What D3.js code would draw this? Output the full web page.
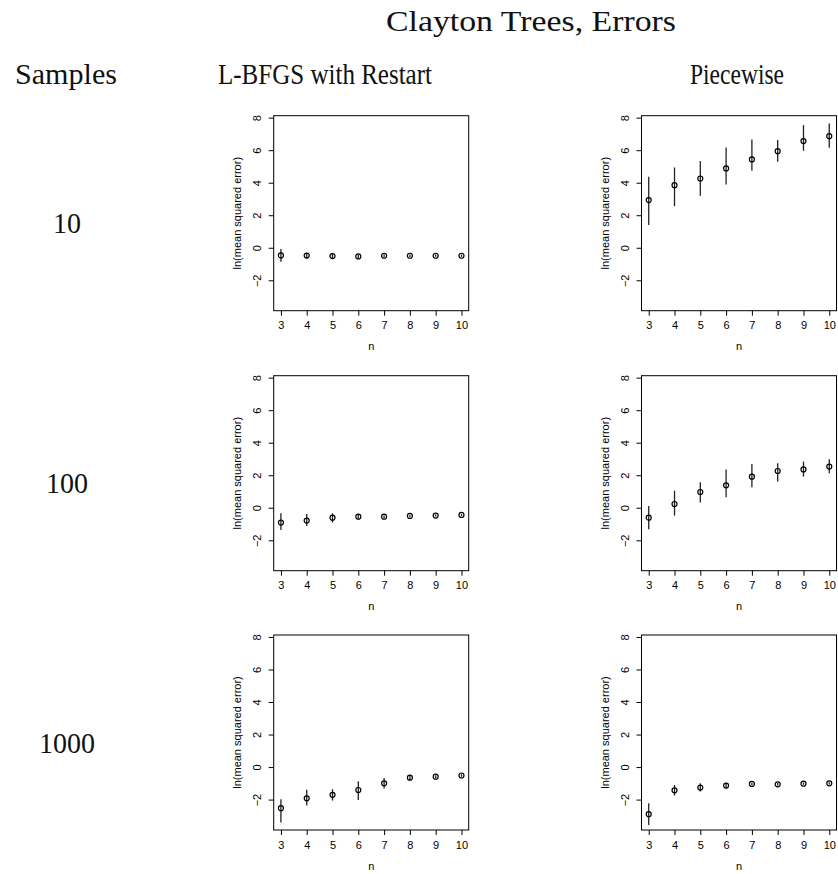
<!DOCTYPE html>
<html>
<head>
<meta charset="utf-8">
<script src="https://cdn.jsdelivr.net/npm/d3@7"></script>
<style>
    body { margin: 0; background: #fff; }
    .tick text { font-family: "Liberation Sans", Arial, sans-serif; }
</style>
</head>
<body>
<div id="chart"></div>
<script>
// n on the x axis and the tick values
var nValues = [3, 4, 5, 6, 7, 8, 9, 10];
var yTicks = [-2, 0, 2, 4, 6, 8];
var sampleSizes = ["10", "100", "1000"];
var methods = ["L-BFGS with Restart", "Piecewise"];

// [mean, lower, upper] of ln(mean squared error) for each n
var lbfgs10 = [[-0.47, -0.86, -0.08], [-0.48, -0.65, -0.30], [-0.51, -0.67, -0.35], [-0.53, -0.65, -0.41],
    [-0.49, -0.58, -0.40], [-0.49, -0.57, -0.41], [-0.49, -0.56, -0.42], [-0.49, -0.56, -0.42]];
var piecewise10 = [[2.93, 1.40, 4.36], [3.85, 2.56, 4.94], [4.26, 3.20, 5.33], [4.88, 3.89, 6.17],
    [5.43, 4.73, 6.66], [5.94, 5.29, 6.62], [6.56, 5.96, 7.54], [6.86, 6.15, 7.64]];
var lbfgs100 = [[-0.91, -1.36, -0.34], [-0.79, -1.12, -0.38], [-0.61, -0.91, -0.34], [-0.55, -0.67, -0.40],
    [-0.55, -0.63, -0.47], [-0.50, -0.57, -0.43], [-0.48, -0.54, -0.42], [-0.44, -0.50, -0.38]];
var piecewise100 = [[-0.61, -1.32, 0.11], [0.23, -0.48, 1.05], [0.97, 0.32, 1.57], [1.38, 0.64, 2.36],
    [1.91, 1.26, 2.69], [2.26, 1.61, 2.73], [2.36, 1.91, 2.84], [2.53, 2.12, 2.98]];
var lbfgs1000 = [[-2.53, -3.41, -1.98], [-1.92, -2.37, -1.40], [-1.71, -2.06, -1.36], [-1.41, -2.02, -0.87],
    [-1.00, -1.32, -0.67], [-0.65, -0.79, -0.50], [-0.59, -0.68, -0.50], [-0.52, -0.60, -0.44]];
var piecewise1000 = [[-2.90, -3.56, -2.23], [-1.43, -1.75, -1.10], [-1.26, -1.51, -0.99], [-1.14, -1.31, -0.99],
    [-1.04, -1.12, -0.96], [-1.06, -1.14, -0.98], [-1.02, -1.09, -0.95], [-1.00, -1.07, -0.93]];

var panels = [
    [lbfgs10, piecewise10],
    [lbfgs100, piecewise100],
    [lbfgs1000, piecewise1000]
];

var width = 838,
    height = 874,
    plotSize = 195,
    colLeft = [273.7, 641.5],
    rowTop = [115.7, 375.7, 635],
    serif = "'Liberation Serif', 'Times New Roman', serif";

var svg = d3.select("#chart")
    .append("svg")
    .attr("width", width)
    .attr("height", height)
    .style("background", "#fff");

// big LaTeX-ish headings
function heading(txt, x, y, len) {
    svg.append("text")
        .attr("x", x)
        .attr("y", y)
        .attr("text-anchor", "middle")
        .attr("textLength", len)
        .attr("lengthAdjust", "spacingAndGlyphs")
        .style("font-family", serif)
        .style("font-size", "30px")
        .style("fill", "#111")
        .text(txt);
}

heading("Clayton Trees, Errors", 531, 31, 290);
heading("Samples", 66, 84, 102);
heading(methods[0], 325, 84, 214);
heading(methods[1], 737, 84, 94);
heading(sampleSizes[0], 67, 233, 28);
heading(sampleSizes[1], 67, 493, 42);
heading(sampleSizes[2], 67, 753, 56);

var x = d3.scaleLinear().domain([2.72, 10.28]).range([0, plotSize]);
var y = d3.scaleLinear().domain([-3.87, 8.12]).range([plotSize, 0]);

panels.forEach(function(row, r) {
    row.forEach(function(data, c) {
        var g = svg.append("g")
            .attr("transform", "translate(" + colLeft[c] + "," + rowTop[r] + ")");

        // X axis
        var xa = g.append("g")
            .attr("transform", "translate(0," + plotSize + ")")
            .call(d3.axisBottom(x).tickValues(nValues).tickSize(5).tickFormat(d3.format("d")));
        xa.select(".domain").remove();
        xa.selectAll("text")
            .attr("y", 18.5)
            .attr("dy", 0)
            .style("font-size", "11px");

        // Y axis, labels turned like R does
        var ya = g.append("g")
            .call(d3.axisLeft(y).tickValues(yTicks).tickSize(5).tickFormat(function(d) {
                return d < 0 ? "\u2212" + Math.abs(d) : d;
            }));
        ya.select(".domain").remove();
        ya.selectAll("text")
            .attr("transform", "rotate(-90)")
            .attr("x", 0)
            .attr("y", -13)
            .attr("dy", 0)
            .style("text-anchor", "middle")
            .style("font-size", "11px");

        g.append("text")
            .attr("x", plotSize / 2)
            .attr("y", plotSize + 39.5)
            .attr("text-anchor", "middle")
            .style("font-family", "'Liberation Sans', Arial, sans-serif")
            .style("font-size", "11px")
            .text("n");

        g.append("text")
            .attr("transform", "rotate(-90)")
            .attr("x", -plotSize / 2)
            .attr("y", -33)
            .attr("text-anchor", "middle")
            .style("font-family", "'Liberation Sans', Arial, sans-serif")
            .style("font-size", "11px")
            .text("ln(mean squared error)");

        // frame
        g.append("rect")
            .attr("width", plotSize)
            .attr("height", plotSize)
            .attr("fill", "none")
            .attr("stroke", "#000")
            .attr("stroke-width", 1);

        // error bars
        g.selectAll("line.bar")
            .data(data)
            .enter()
            .append("line")
            .attr("class", "bar")
            .attr("x1", function(d, i) { return x(nValues[i]); })
            .attr("x2", function(d, i) { return x(nValues[i]); })
            .attr("y1", function(d) { return y(d[1]); })
            .attr("y2", function(d) { return y(d[2]); })
            .attr("stroke", "#222")
            .attr("stroke-width", 1.3);

        g.selectAll("circle.pt")
            .data(data)
            .enter()
            .append("circle")
            .attr("class", "pt")
            .attr("cx", function(d, i) { return x(nValues[i]); })
            .attr("cy", function(d) { return y(d[0]); })
            .attr("r", 2.5)
            .attr("fill", "none")
            .attr("stroke", "#000")
            .attr("stroke-width", 1.2);
    });
});
</script>
</body>
</html>
